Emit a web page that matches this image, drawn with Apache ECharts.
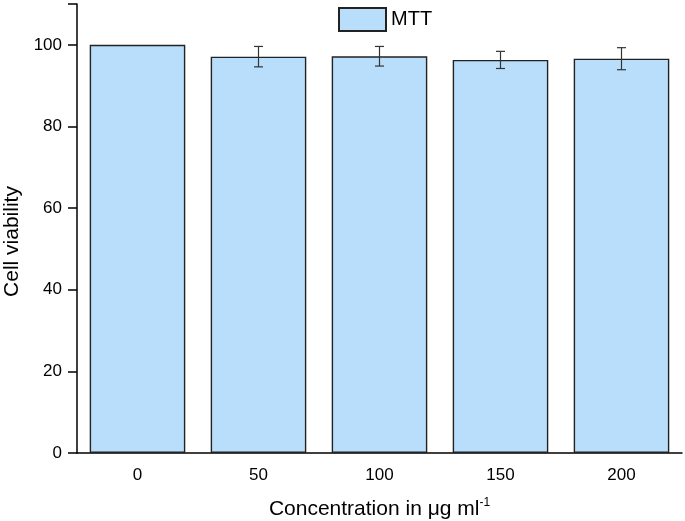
<!DOCTYPE html>
<html>
<head>
<meta charset="utf-8">
<script src="https://cdn.jsdelivr.net/npm/echarts@6/dist/echarts.min.js"></script>
<style>
  html, body { margin: 0; padding: 0; background: #fff; }
  #chart { width: 685px; height: 521px; }
</style>
</head>
<body>
<div id="chart"></div>
<script>
// 数据
var categories = ['0', '50', '100', '150', '200'];
var viability = [100, 97.1, 97.2, 96.3, 96.6];
var errors = [0, 2.5, 2.4, 2.1, 2.7];
var yTicks = [0, 20, 40, 60, 80, 100];

var myChart = echarts.init(document.getElementById('chart'));

// 误差线数据 [index, low, high]
var errData = viability.map(function (v, i) {
    return [i, v - errors[i], v + errors[i]];
});

var options = {
    animation: false,
    textStyle: { fontFamily: 'Liberation Sans, Arial, sans-serif' },
    grid: { left: 77, right: 3, top: 4, bottom: 68, containLabel: false, outerBoundsMode: 'none' },
    legend: {
        top: 2,
        left: 333,
        icon: 'rect',
        itemWidth: 47,
        itemHeight: 23,
        itemGap: 8,
        textStyle: { fontSize: 20, color: '#000' },
        data: ['MTT']
    },
    xAxis: {
        type: 'category',
        data: categories,
        name: 'Concentration in μg ml{sup|-1}',
        nameLocation: 'middle',
        nameGap: 44,
        nameTextStyle: {
            fontSize: 21,
            color: '#000',
            rich: { sup: { fontSize: 12, verticalAlign: 'top', padding: [0, 0, 12, 0], color: '#000' } }
        },
        axisLine: { lineStyle: { color: '#000', width: 1.5 } },
        axisTick: { alignWithLabel: true, length: 6, lineStyle: { color: '#000', width: 1.5 } },
        axisLabel: { fontSize: 17, color: '#000', margin: 14 }
    },
    yAxis: {
        type: 'value',
        min: 0,
        max: 110,
        interval: 20,
        name: 'Cell viability',
        nameLocation: 'middle',
        nameGap: 54,
        nameTextStyle: { fontSize: 21, color: '#000', padding: [0, 26, 0, 0] },
        splitLine: { show: false },
        axisLine: { show: true, lineStyle: { color: '#000', width: 1.5 } },
        axisTick: { show: true, length: 9, lineStyle: { color: '#000', width: 1.5 } },
        axisLabel: {
            fontSize: 17, color: '#000', margin: 15,
            formatter: function (v) { return yTicks.indexOf(v) >= 0 ? v : ''; }
        }
    },
    series: [{
        name: 'MTT',
        type: 'bar',
        barCategoryGap: '21%',
        data: viability,
        itemStyle: { color: '#b8defc', borderColor: '#222', borderWidth: 1.4 }
    }, {
        type: 'custom',
        name: 'err',
        data: errData,
        z: 10,
        renderItem: function (params, api) {
            var idx = api.value(0);
            var lo = api.coord([idx, api.value(1)]);
            var hi = api.coord([idx, api.value(2)]);
            if (hi[1] === lo[1]) return;
            var w = 4.5;
            var st = { stroke: '#333', lineWidth: 1.2 };
            return {
                type: 'group',
                children: [
                    { type: 'line', shape: { x1: hi[0], y1: hi[1], x2: lo[0], y2: lo[1] }, style: st },
                    { type: 'line', shape: { x1: hi[0] - w, y1: hi[1], x2: hi[0] + w, y2: hi[1] }, style: st },
                    { type: 'line', shape: { x1: lo[0] - w, y1: lo[1], x2: lo[0] + w, y2: lo[1] }, style: st }
                ]
            };
        }
    }]
};
myChart.setOption(options);
</script>
</body>
</html>
